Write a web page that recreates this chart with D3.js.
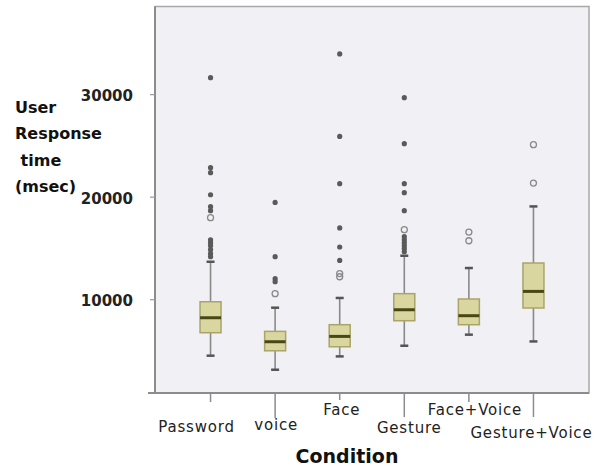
<!DOCTYPE html>
<html>
<head>
<meta charset="utf-8">
<script src="https://cdn.jsdelivr.net/npm/d3@7"></script>
<style>
  body { margin: 0; background: #fff; }
  text { font-family: "DejaVu Sans", Verdana, sans-serif; }
</style>
</head>
<body>
<svg width="600" height="468"></svg>
<script>
// values (msec)
var categories = ["Password", "voice", "Face", "Gesture", "Face+Voice", "Gesture+Voice"];
var lowWhisker = [4540, 3170, 4470, 5510, 6590, 5930];
var q1 = [6780, 5020, 5410, 7950, 7560, 9190];
var median = [8240, 5900, 6420, 9020, 8440, 10810];
var q3 = [9800, 6910, 7560, 10590, 10070, 13580];
var highWhisker = [13700, 9220, 10170, 14290, 13090, 19100];
// open circles
var outliers = [
  [18000],
  [10590],
  [12240, 12550],
  [16830],
  [16600, 15750],
  [25120, 21380]
];
// filled dots
var extremes = [
  [31660, 22880, 22390, 20240, 19070, 18680, 15850, 15560, 15270, 14880, 14490, 14200],
  [19490, 14200, 12050, 11760],
  [33970, 25930, 21320, 17000, 15140, 13830],
  [29710, 25220, 21320, 20440, 18680, 16150, 15850, 15560, 15270, 14980, 14680],
  [],
  []
];
var yTicks = [10000, 20000, 30000];

var svg = d3.select("svg");
var pLeft = 155, pRight = 589, pTop = 6.5, pBottom = 393;

// staggered category labels
var tickLen = [9, 25, 7, 24, 9, 24];
var labelY = [432, 430, 415, 433, 415, 438];
var labelDx = [-14, 1, 2, 5, 6, -2];

var x = d3.scalePoint().domain(categories).range([pLeft, pRight]).padding(0.86);
var y = d3.scaleLinear().domain([900, 38600]).range([pBottom, pTop]);

// plot area
svg.append("rect")
  .attr("x", pLeft).attr("y", pTop)
  .attr("width", pRight - pLeft).attr("height", pBottom - pTop)
  .attr("fill", "#f0f0f5")
  .attr("stroke", "#a8a8a8")
  .attr("stroke-width", 1.5);

// y axis
svg.append("line")
  .attr("x1", pLeft).attr("x2", pLeft).attr("y1", pTop).attr("y2", pBottom)
  .attr("stroke", "#8c8c8c").attr("stroke-width", 2);
svg.append("line")
  .attr("x1", pLeft - 7).attr("x2", pRight).attr("y1", pBottom).attr("y2", pBottom)
  .attr("stroke", "#8c8c8c").attr("stroke-width", 2);

var yt = svg.append("g").selectAll("g").data(yTicks).enter().append("g")
  .attr("transform", function(d) { return "translate(0," + y(d) + ")"; });
yt.append("line").attr("x1", pLeft - 5).attr("x2", pLeft)
  .attr("stroke", "#999").attr("stroke-width", 1.2);
yt.append("text")
  .attr("x", 133).attr("dy", "0.45em")
  .attr("text-anchor", "end")
  .attr("font-size", 15).attr("font-weight", "bold")
  .attr("fill", "#222")
  .text(function(d) { return d; });

// x ticks + labels
var xt = svg.append("g").selectAll("g").data(categories).enter().append("g");
xt.append("line")
  .attr("x1", function(d) { return x(d); })
  .attr("x2", function(d) { return x(d); })
  .attr("y1", pBottom)
  .attr("y2", function(d, i) { return pBottom + tickLen[i]; })
  .attr("stroke", "#8c8c8c").attr("stroke-width", 1.5);
xt.append("text")
  .attr("x", function(d, i) { return x(d) + labelDx[i]; })
  .attr("y", function(d, i) { return labelY[i]; })
  .attr("text-anchor", "middle")
  .attr("font-size", 15)
  .attr("letter-spacing", 0.8)
  .attr("fill", "#222")
  .text(function(d) { return d; });

// boxes
var bw = 21, cw = 8;
var g = svg.append("g").selectAll("g").data(categories).enter().append("g")
  .attr("transform", function(d) { return "translate(" + x(d) + ",0)"; });

g.append("line")
  .attr("y1", function(d, i) { return y(lowWhisker[i]); })
  .attr("y2", function(d, i) { return y(highWhisker[i]); })
  .attr("stroke", "#8a8a8a").attr("stroke-width", 1.6);
g.append("line")
  .attr("x1", -cw / 2).attr("x2", cw / 2)
  .attr("y1", function(d, i) { return y(lowWhisker[i]); })
  .attr("y2", function(d, i) { return y(lowWhisker[i]); })
  .attr("stroke", "#555").attr("stroke-width", 2.5);
g.append("line")
  .attr("x1", -cw / 2).attr("x2", cw / 2)
  .attr("y1", function(d, i) { return y(highWhisker[i]); })
  .attr("y2", function(d, i) { return y(highWhisker[i]); })
  .attr("stroke", "#555").attr("stroke-width", 2.5);
g.append("rect")
  .attr("x", -bw / 2).attr("width", bw)
  .attr("y", function(d, i) { return y(q3[i]); })
  .attr("height", function(d, i) { return y(q1[i]) - y(q3[i]); })
  .attr("fill", "#dad6a0")
  .attr("stroke", "#aaa46a").attr("stroke-width", 1.5);
g.append("line")
  .attr("x1", -bw / 2).attr("x2", bw / 2)
  .attr("y1", function(d, i) { return y(median[i]); })
  .attr("y2", function(d, i) { return y(median[i]); })
  .attr("stroke", "#4a4716").attr("stroke-width", 3);

g.selectAll("circle.out")
  .data(function(d, i) { return outliers[i]; })
  .enter().append("circle")
  .attr("class", "out")
  .attr("r", 3)
  .attr("cy", function(v) { return y(v); })
  .attr("fill", "none")
  .attr("stroke", "#8a8a8a").attr("stroke-width", 1.3);

g.selectAll("circle.ext")
  .data(function(d, i) { return extremes[i]; })
  .enter().append("circle")
  .attr("class", "ext")
  .attr("r", 2.6)
  .attr("cy", function(v) { return y(v); })
  .attr("fill", "#5a5a5a");

// axis titles
var ylab = ["User", "Response", " time", "(msec)"];
svg.append("text")
  .attr("font-size", 16).attr("font-weight", "bold").attr("fill", "#111")
  .attr("xml:space", "preserve")
  .selectAll("tspan").data(ylab).enter().append("tspan")
  .attr("x", 15)
  .attr("y", function(d, i) { return 113 + i * 26.3; })
  .text(function(d) { return d; });

svg.append("text")
  .attr("x", 347).attr("y", 463)
  .attr("text-anchor", "middle")
  .attr("font-size", 19).attr("font-weight", "bold").attr("fill", "#111")
  .text("Condition");
</script>
</body>
</html>
